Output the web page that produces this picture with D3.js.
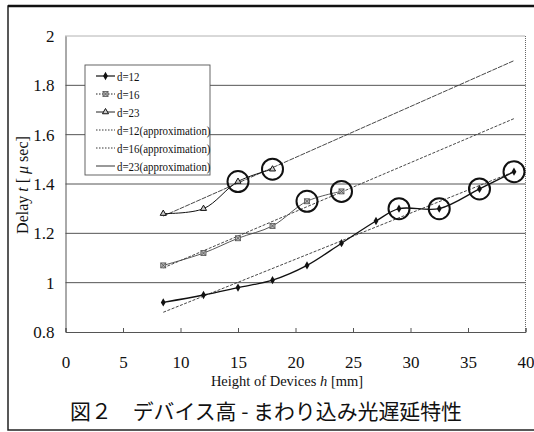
<!DOCTYPE html>
<html><head><meta charset="utf-8">
<script src="https://cdn.jsdelivr.net/npm/d3@7"></script>
<style>body{margin:0;background:#fff}svg{display:block}</style>
</head><body>
<svg id="c" width="534" height="432"></svg>
<script>
const xTicks = [0,5,10,15,20,25,30,35,40];
const yTicks = [0.8,1,1.2,1.4,1.6,1.8,2];
const yTickLabels = ["0.8","1","1.2","1.4","1.6","1.8","2"];
const h12 = [8.5,12,15,18,21,24,27,29,32.5,36,39];
const d12 = [0.92,0.95,0.98,1.01,1.07,1.16,1.25,1.30,1.30,1.38,1.45];
const h16 = [8.5,12,15,18,21,24];
const d16 = [1.07,1.12,1.18,1.23,1.33,1.37];
const h23 = [8.5,12,15,18];
const d23 = [1.28,1.30,1.41,1.46];
const approxH = [8.5,39];
const approx12 = [0.88,1.45];
const approx16 = [1.06,1.665];
const approx23 = [1.27,1.90];
const circled12 = [29,32.5,36,39];
const circled16 = [21,24];
const circled23 = [15,18];
const legendLabels = ["d=12","d=16","d=23","d=12(approximation)","d=16(approximation)","d=23(approximation)"];
const xTitle = "Height of Devices ";
const yTitle = "Delay ";
const caption = "図２　デバイス高 - まわり込み光遅延特性";

const svg = d3.select("#c");
const serif = "'Liberation Serif','Times New Roman',serif";
const x = d3.scaleLinear().domain([0,40]).range([65.5,525.5]);
const y = d3.scaleLinear().domain([0.8,2]).range([332,36]);

// outer frame
svg.append("rect").attr("x",8).attr("y",6).attr("width",540).attr("height",424)
  .attr("fill","none").attr("stroke","#222").attr("stroke-width",1.5);
svg.append("line").attr("x1",8).attr("x2",534).attr("y1",6).attr("y2",6).attr("stroke","#111").attr("stroke-width",2.5);

// gridlines
svg.append("g").selectAll("line").data(yTicks.filter(v=>v>0.8 && v<2)).join("line")
  .attr("x1",x(0)).attr("x2",x(40)).attr("y1",d=>y(d)).attr("y2",d=>y(d))
  .attr("stroke","#555").attr("stroke-width",1);
// plot border
svg.append("line").attr("x1",x(0)).attr("x2",x(40)).attr("y1",y(2)).attr("y2",y(2))
  .attr("stroke","#666").attr("stroke-dasharray","1,1");
svg.append("line").attr("x1",x(40)).attr("x2",x(40)).attr("y1",y(2)).attr("y2",y(0.8))
  .attr("stroke","#666").attr("stroke-dasharray","1,1");
// axes
const xAxis = d3.axisBottom(x).tickValues(xTicks).tickSize(-4).tickPadding(24).tickFormat(d3.format("d"));
const gx = svg.append("g").attr("transform",`translate(0,${y(0.8)})`).call(xAxis);
gx.attr("font-family",null).attr("font-size",null);
gx.select(".domain").attr("stroke","#555");
gx.selectAll(".tick line").attr("stroke","#555");
gx.selectAll(".tick text").style("font-family",serif).style("font-size","17px").attr("fill","#111");
const yAxis = d3.axisLeft(y).tickValues(yTicks).tickSize(0).tickPadding(11).tickFormat((d,i)=>yTickLabels[i]);
const gy = svg.append("g").attr("transform",`translate(${x(0)},0)`).call(yAxis);
gy.attr("font-family",null).attr("font-size",null);
gy.select(".domain").attr("stroke","#555");
gy.selectAll(".tick text").style("font-family",serif).style("font-size","17px").attr("fill","#111");

// approximation lines
const line = d3.line().x(d=>x(d[0])).y(d=>y(d[1]));
[[approx12,"3,1.5"],[approx16,"3,1.5"],[approx23,"5,1"]].forEach(([arr,dash])=>{
  svg.append("path").attr("d",line(approxH.map((h,i)=>[h,arr[i]])))
    .attr("fill","none").attr("stroke","#333").attr("stroke-width",0.9).attr("stroke-dasharray",dash);
});

// series
const sm = d3.line().x(d=>x(d[0])).y(d=>y(d[1])).curve(d3.curveCatmullRom.alpha(0.5));
const series = [
  {h:h12,v:d12,w:1.3,col:"#111",m:"diamond"},
  {h:h16,v:d16,w:0.9,col:"#444",m:"square"},
  {h:h23,v:d23,w:1,col:"#111",m:"triangle"}
];
function marker(g,type,cx,cy){
  if(type==="diamond") g.append("path").attr("d",d3.symbol(d3.symbolDiamond,20)()).attr("transform",`translate(${cx},${cy})`).attr("fill","#111");
  else if(type==="square"){
    g.append("rect").attr("x",cx-2.5).attr("y",cy-2.5).attr("width",5).attr("height",5).attr("fill","#bbb").attr("stroke","#555").attr("stroke-width",0.8);
    g.append("path").attr("d",`M${cx-2.5},${cy-2.5}L${cx+2.5},${cy+2.5}M${cx+2.5},${cy-2.5}L${cx-2.5},${cy+2.5}`).attr("stroke","#444").attr("stroke-width",0.7);
  } else g.append("path").attr("d",d3.symbol(d3.symbolTriangle,16)()).attr("transform",`translate(${cx},${cy})`).attr("fill","#ccc").attr("stroke","#111").attr("stroke-width",1);
}
series.forEach(s=>{
  const pts = s.h.map((h,i)=>[h,s.v[i]]);
  svg.append("path").attr("d",sm(pts)).attr("fill","none").attr("stroke",s.col).attr("stroke-width",s.w);
  const g = svg.append("g");
  pts.forEach(p=>marker(g,s.m,x(p[0]),y(p[1])));
});

// circles
[[circled12,h12,d12],[circled16,h16,d16],[circled23,h23,d23]].forEach(([cs,hs,vs])=>{
  cs.forEach(c=>{
    const i = hs.indexOf(c);
    svg.append("circle").attr("cx",x(c)).attr("cy",y(vs[i])).attr("r",10.5)
      .attr("fill","none").attr("stroke","#111").attr("stroke-width",2);
  });
});

// legend
const lg = svg.append("g");
lg.append("rect").attr("x",85).attr("y",65).attr("width",125).attr("height",110)
  .attr("fill","#fff").attr("stroke","#555").attr("stroke-width",0.9);
const rowY = i=>76+i*18;
const legendStyles = [
  {dash:null,w:1.3,m:"diamond"},
  {dash:"1.5,1.5",w:1,m:"square"},
  {dash:null,w:1,m:"triangle"},
  {dash:"1.5,1.5",w:0.9,m:null},
  {dash:"1.5,1.5",w:0.9,m:null},
  {dash:null,w:1.2,m:null}
];
legendLabels.forEach((t,i)=>{
  const st = legendStyles[i];
  const ln = lg.append("line").attr("x1",96).attr("x2",115).attr("y1",rowY(i)).attr("y2",rowY(i))
    .attr("stroke",i===5?"#555":"#222").attr("stroke-width",st.w);
  if(st.dash) ln.attr("stroke-dasharray",st.dash);
  if(st.m) marker(lg,st.m,105.5,rowY(i));
  const tx = lg.append("text").attr("x",117).attr("y",rowY(i)+4.5).style("font-family",serif)
    .style("font-size","13px").attr("fill","#111").text(t);
  const L = tx.node().getComputedTextLength();
  tx.attr("textLength",L*0.84).attr("lengthAdjust","spacingAndGlyphs");
});

// axis titles
const xt = svg.append("text").attr("x",287).attr("y",386).attr("text-anchor","middle")
  .style("font-family",serif).style("font-size","14.5px").attr("fill","#111");
xt.append("tspan").text(xTitle);
xt.append("tspan").attr("font-style","italic").text("h");
xt.append("tspan").text(" [mm]");

const yt = svg.append("text").attr("transform","translate(28,185) rotate(-90)").attr("text-anchor","middle")
  .style("font-family",serif).style("font-size","16px").attr("fill","#111");
yt.append("tspan").text(yTitle);
yt.append("tspan").attr("font-style","italic").text("t");
yt.append("tspan").text(" [ ");
yt.append("tspan").attr("font-style","italic").text("μ");
yt.append("tspan").text(" sec]");

// caption
const cap = svg.append("text").attr("x",70).attr("y",419).style("font-family","'Noto Sans CJK JP',sans-serif")
  .style("font-size","21px").attr("fill","#111").text(caption);
cap.attr("textLength",392).attr("lengthAdjust","spacingAndGlyphs");
</script>
</body></html>
